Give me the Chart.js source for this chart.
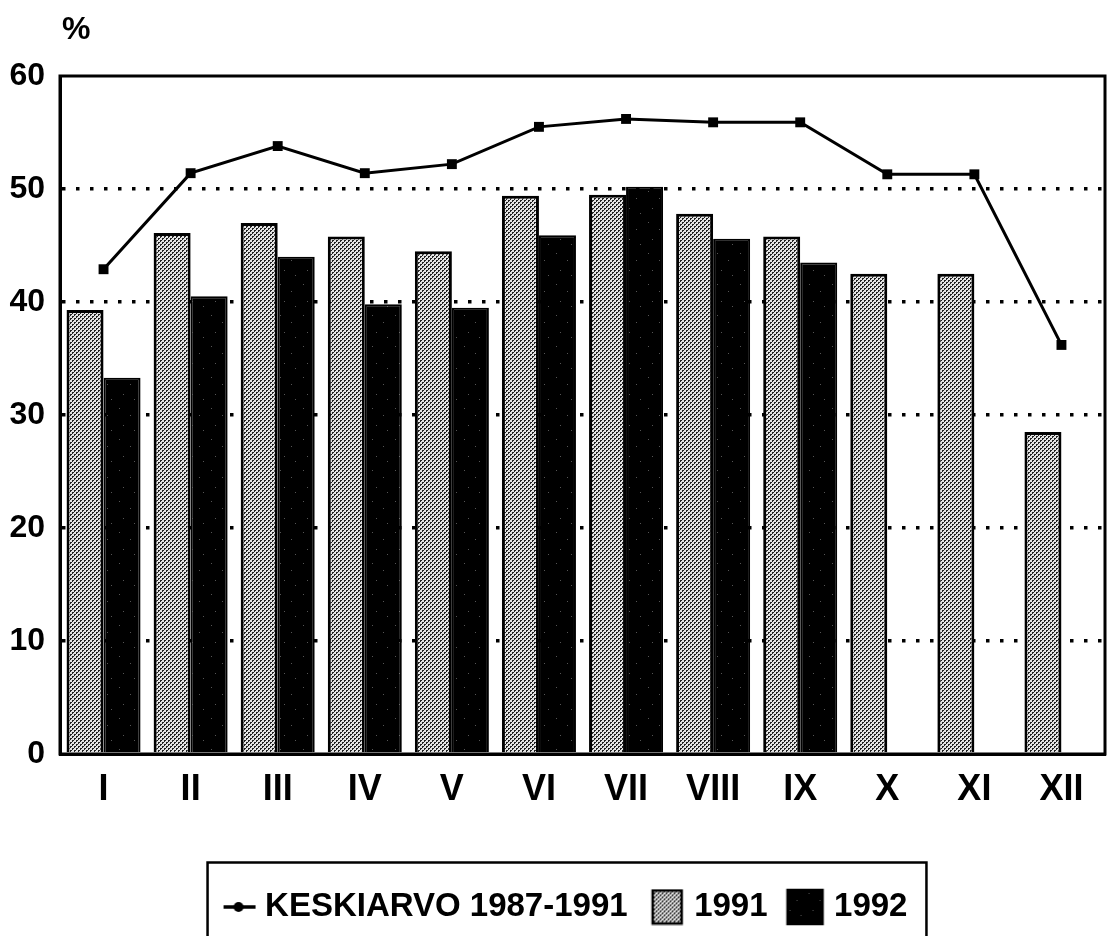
<!DOCTYPE html>
<html>
<head>
<meta charset="utf-8">
<script src="https://cdn.jsdelivr.net/npm/chart.js@4"></script>
<style>
  body { margin: 0; background: #fff; }
  canvas { display: block; }
</style>
</head>
<body>
<canvas id="chart" width="1112" height="936"></canvas>
<script>
const months = ['I', 'II', 'III', 'IV', 'V', 'VI', 'VII', 'VIII', 'IX', 'X', 'XI', 'XII'];
const avg8791 = [42.9, 51.4, 53.8, 51.4, 52.2, 55.5, 56.2, 55.9, 55.9, 51.3, 51.3, 36.2];
const v1991 = [39.3, 46.1, 47.0, 45.8, 44.5, 49.4, 49.5, 47.8, 45.8, 42.5, 42.5, 28.5];
const v1992 = [33.3, 40.5, 44.0, 39.8, 39.5, 45.9, 50.2, 45.6, 43.5, null, null, null];
const seriesNames = ['KESKIARVO 1987-1991', '1991', '1992'];

const FONT = "'Liberation Sans', Arial, sans-serif";

// stipple fill for 1991
function makeStipple() {
    const c = document.createElement('canvas');
    c.width = 4; c.height = 4;
    const g = c.getContext('2d');
    g.fillStyle = '#e4e4e4';
    g.fillRect(0, 0, 4, 4);
    g.fillStyle = '#222';
    [[0, 0], [1, 0], [0, 1], [2, 2], [3, 2], [2, 3]].forEach(p => g.fillRect(p[0], p[1], 1, 1));
    return g.createPattern(c, 'repeat');
}

// black with a few speckles for 1992
function makeDark() {
    const c = document.createElement('canvas');
    c.width = 23; c.height = 31;
    const g = c.getContext('2d');
    g.fillStyle = '#000';
    g.fillRect(0, 0, 23, 31);
    g.fillStyle = '#555';
    [[4, 5], [15, 12], [8, 22], [19, 27]].forEach(p => g.fillRect(p[0], p[1], 1, 1));
    return g.createPattern(c, 'repeat');
}

const stipple = makeStipple();
const dark = makeDark();

// legend icons, canvas 50 wide; centre of canvas sits 11px right of the item start
function lineIcon() {
    const c = document.createElement('canvas');
    c.width = 50; c.height = 20;
    const g = c.getContext('2d');
    g.strokeStyle = '#000';
    g.lineWidth = 3.5;
    g.beginPath(); g.moveTo(11, 10); g.lineTo(43, 10); g.stroke();
    g.fillStyle = '#000';
    g.beginPath(); g.arc(26, 10, 5, 0, Math.PI * 2); g.fill();
    return c;
}
function boxIcon(fill, rel, w, h) {
    const c = document.createElement('canvas');
    c.width = 50; c.height = h + 2;
    const g = c.getContext('2d');
    const x = 25 - 11 + rel;
    g.fillStyle = fill;
    g.fillRect(x, 1, w, h);
    g.strokeStyle = '#000';
    g.lineWidth = 2.5;
    g.strokeRect(x + 1, 2, w - 2, h - 2);
    return c;
}
const icons = [lineIcon(), boxIcon(stipple, -4, 31, 35), boxIcon(dark, -9, 37, 36)];

const framePlugin = {
    id: 'frame',
    afterDraw(chart) {
        const ctx = chart.ctx;
        const a = chart.chartArea;
        ctx.save();
        ctx.strokeStyle = '#000';
        ctx.lineWidth = 3;
        ctx.strokeRect(a.left, a.top, a.right - a.left, a.bottom - a.top);

        ctx.fillStyle = '#000';
        ctx.font = 'bold 32px ' + FONT;
        ctx.textAlign = 'left';
        ctx.textBaseline = 'alphabetic';
        ctx.fillText('%', 62, 39);

        const hb = chart.legend.legendHitBoxes;
        if (hb && hb.length) {
            const first = hb[0], last = hb[hb.length - 1];
            const l = first.left - 19, r = last.left + last.width + 19, t = first.top - 28;
            ctx.lineWidth = 2.5;
            ctx.beginPath();
            ctx.moveTo(l, 940); ctx.lineTo(l, t); ctx.lineTo(r, t); ctx.lineTo(r, 940);
            ctx.stroke();
        }
        ctx.restore();
    }
};

const ctx = document.getElementById('chart').getContext('2d');
new Chart(ctx, {
    type: 'bar',
    data: {
        labels: months,
        datasets: [
            {
                type: 'line',
                label: seriesNames[0],
                data: avg8791,
                borderColor: '#000',
                backgroundColor: '#000',
                borderWidth: 3,
                pointStyle: 'rect',
                pointRadius: 7,
                pointBorderWidth: 0,
                tension: 0
            },
            {
                label: seriesNames[1],
                data: v1991,
                backgroundColor: stipple,
                borderColor: '#000',
                borderWidth: 3,
                categoryPercentage: 0.85,
                barPercentage: 1.0
            },
            {
                label: seriesNames[2],
                data: v1992,
                backgroundColor: dark,
                borderColor: '#000',
                borderWidth: 2,
                categoryPercentage: 0.85,
                barPercentage: 1.0
            }
        ]
    },
    options: {
        responsive: false,
        animation: false,
        layout: {
            padding: { top: 76, left: 0, right: -22, bottom: 2.5 }
        },
        scales: {
            x: {
                afterFit: function (scale) { scale.height = 108.5; },
                grid: { display: false, drawTicks: false },
                border: { display: true, color: '#000', width: 3 },
                ticks: {
                    color: '#000',
                    padding: 14,
                    font: { family: FONT, size: 36, weight: 'bold' }
                }
            },
            y: {
                min: 0,
                max: 60,
                afterFit: function (scale) { scale.width = 60; },
                ticks: {
                    stepSize: 10,
                    color: '#000',
                    padding: 15,
                    font: { family: FONT, size: 32, weight: 'bold' }
                },
                border: { display: true, color: '#000', width: 3, dash: [3.5, 10.5] },
                grid: {
                    drawTicks: false,
                    lineWidth: 3.5,
                    color: function (c) {
                        const v = c.tick ? c.tick.value : 0;
                        return (v === 0 || v === 60) ? 'rgba(0,0,0,0)' : '#000';
                    }
                }
            },
            // empty right-hand axis, keeps the plot edge while the legend stays centred like the original
            y2: {
                position: 'right',
                display: true,
                afterFit: function (scale) { scale.width = 26; },
                grid: { display: false, drawTicks: false },
                border: { display: false },
                ticks: { display: false }
            }
        },
        plugins: {
            tooltip: { enabled: false },
            legend: {
                position: 'bottom',
                labels: {
                    usePointStyle: true,
                    pointStyleWidth: 22,
                    padding: 28,
                    color: '#000',
                    font: { family: FONT, size: 33, weight: 'bold' },
                    generateLabels: function (chart) {
                        return chart.data.datasets.map((ds, i) => ({
                            text: ds.label,
                            pointStyle: icons[i],
                            fillStyle: '#000',
                            strokeStyle: '#000',
                            lineWidth: 0,
                            fontColor: '#000',
                            hidden: false,
                            datasetIndex: i
                        }));
                    }
                }
            }
        }
    },
    plugins: [framePlugin]
});
</script>
</body>
</html>
